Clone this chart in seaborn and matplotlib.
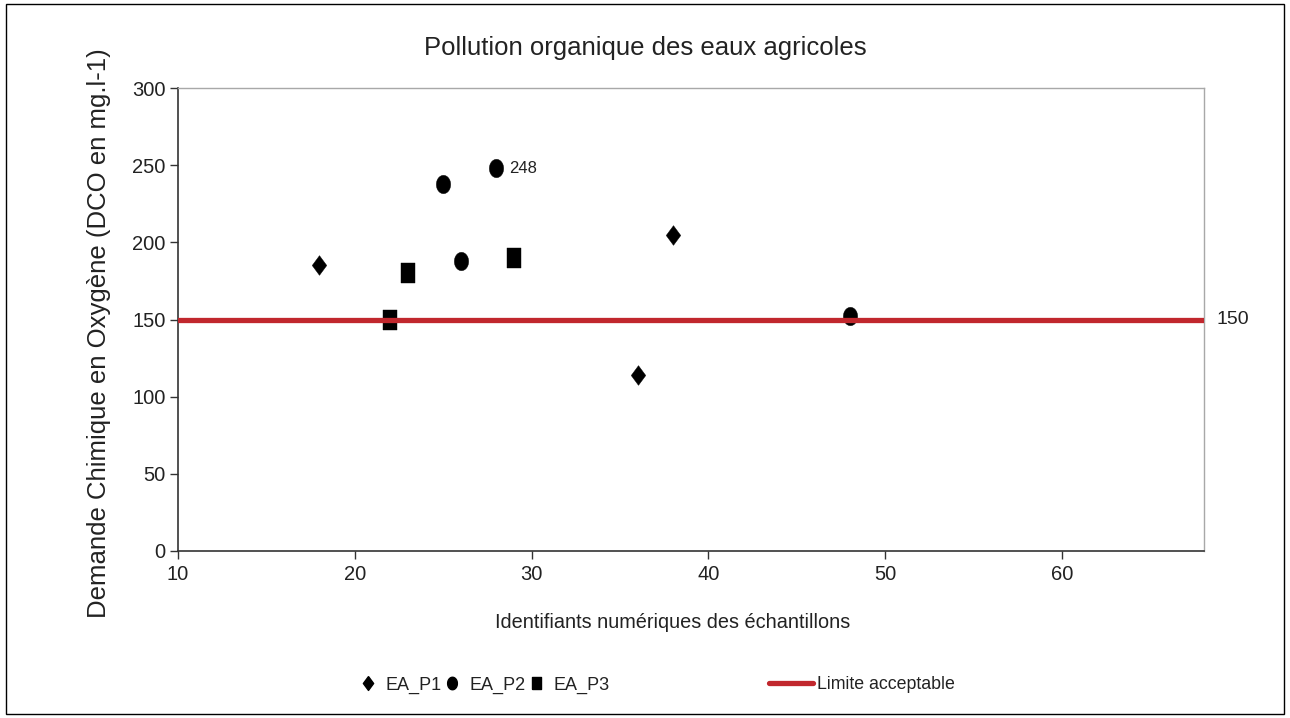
import matplotlib
matplotlib.use("Agg")
import matplotlib.pyplot as plt
import matplotlib.patches as mpatches
from matplotlib.lines import Line2D
import matplotlib.transforms as mtransforms
import seaborn as sns
import pandas as pd
import numpy as np

# ---- data ----
p1_x = [18, 36, 38]
p1_y = [185, 114, 205]
p2_x = [25, 28, 26, 48]
p2_y = [238, 248, 188, 152]
p3_x = [22, 23, 29]
p3_y = [150, 180, 190]
series_names = ["EA_P1", "EA_P2", "EA_P3"]
limit_value = 150
limit_label = "Limite acceptable"
annot_x, annot_y = 28, 248
title = "Pollution organique des eaux agricoles"
xlabel = "Identifiants numériques des échantillons"
ylabel = "Demande Chimique en Oxygène (DCO en mg.l-1)"
xticks = [10, 20, 30, 40, 50, 60]
yticks = [0, 50, 100, 150, 200, 250, 300]

df = pd.DataFrame({
    "x": p1_x + p2_x + p3_x,
    "y": p1_y + p2_y + p3_y,
    "serie": [series_names[0]] * len(p1_x) + [series_names[1]] * len(p2_x) + [series_names[2]] * len(p3_x),
})

sns.set_theme(style="white")
plt.rcParams["font.family"] = ["Liberation Sans", "DejaVu Sans"]

fig = plt.figure(figsize=(12.9, 7.18), dpi=100)
ax = fig.add_axes([0.138, 0.2326, 0.795, 0.6448])

# marker shapes (slightly tall, as in the reference)
asp = 0.74
diamond = [(0, 1), (asp, 0), (0, -1), (-asp, 0), (0, 1)]
th = np.linspace(0, 2 * np.pi, 41)
ellipse = list(zip(0.78 * np.cos(th), np.sin(th)))
rect = [(-0.72, -1), (0.72, -1), (0.72, 1), (-0.72, 1), (-0.72, -1)]
markers = {series_names[0]: diamond, series_names[1]: ellipse, series_names[2]: rect}
sizes_map = {series_names[0]: 200, series_names[1]: 175, series_names[2]: 200}

for name in series_names:
    sub = df[df["serie"] == name]
    sns.scatterplot(data=sub, x="x", y="y", marker=markers[name], s=sizes_map[name],
                    color="black", edgecolor="black", linewidth=0.3, ax=ax,
                    legend=False, zorder=3)

red = "#c1272d"
ax.axhline(limit_value, color=red, lw=3.8, zorder=4)

ax.set_xlim(10, 68)
ax.set_ylim(0, 300)
ax.set_xticks(xticks)
ax.set_yticks(yticks)
ax.tick_params(axis="both", which="both", direction="out", length=6, width=1,
               color="#333333", labelsize=14.5, labelcolor="#222222",
               left=True, bottom=True)
ax.tick_params(axis="x", pad=4)
ax.tick_params(axis="y", pad=3)
for s in ["left", "bottom"]:
    ax.spines[s].set_color("#333333")
    ax.spines[s].set_linewidth(1.2)
for s in ["top", "right"]:
    ax.spines[s].set_color("#a8a8a8")
    ax.spines[s].set_linewidth(1.0)
ax.grid(False)

ax.set_xlabel(xlabel, fontsize=14.3, color="#222222")
ax.xaxis.set_label_coords(0.482, -0.135)
ax.set_ylabel(ylabel, fontsize=18.5, color="#222222")
ax.yaxis.set_label_coords(-0.065, 0.471)
fig.text(0.5, 0.933, title, fontsize=18.5, color="#222222", ha="center", va="center")

ax.annotate(str(annot_y), xy=(annot_x, annot_y), xytext=(9, 0), textcoords="offset points",
            ha="left", va="center", fontsize=12, color="#222222")

trans = mtransforms.blended_transform_factory(ax.transAxes, ax.transData)
ax.text(1.013, limit_value, str(limit_value), transform=trans, ha="left", va="center",
        fontsize=14, color="#222222")

# legends
h_markers = [
    Line2D([], [], linestyle="none", marker=diamond, color="black", markersize=10),
    Line2D([], [], linestyle="none", marker=ellipse, color="black", markersize=9),
    Line2D([], [], linestyle="none", marker=rect, color="black", markersize=9),
]
leg1 = fig.legend(h_markers, series_names, loc="center", bbox_to_anchor=(0.3755, 0.046),
                  ncol=3, frameon=False, fontsize=13, handlelength=1.0, handletextpad=0.5,
                  columnspacing=0.05)
h_line = [Line2D([], [], color=red, lw=3.8)]
leg2 = fig.legend(h_line, [limit_label], loc="center", bbox_to_anchor=(0.668, 0.046),
                  frameon=False, fontsize=12.8, handlelength=2.5, handletextpad=0.2)
for t in leg1.get_texts() + leg2.get_texts():
    t.set_color("#222222")

fig.patches.append(mpatches.Rectangle((0.005, 0.006), 0.99, 0.988, transform=fig.transFigure,
                                      fill=False, edgecolor="black", linewidth=1.0))

fig.savefig("out.png", dpi=100, facecolor="white")
